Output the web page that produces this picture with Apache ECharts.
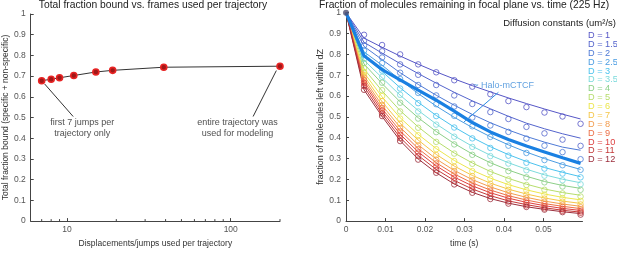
<!DOCTYPE html>
<html>
<head>
<meta charset="utf-8">
<script src="https://cdn.jsdelivr.net/npm/echarts@6/dist/echarts.min.js"></script>
<style>
  html, body { margin: 0; padding: 0; background: #fff; }
  #chart { width: 617px; height: 253px; }
</style>
</head>
<body>
<div id="chart"></div>
<script>
// left panel: fraction bound vs. jumps used
const jumpsUsed = [7, 8, 9, 11, 15, 19, 39, 200];
const fractionBound = [0.678, 0.685, 0.692, 0.703, 0.720, 0.728, 0.743, 0.748];
const logMinorTicks = [7, 8, 9, 20, 30, 40, 50, 60, 70, 80, 90, 200];

// right panel: fraction remaining vs. time
const times = [0, 0.00457, 0.00914, 0.01371, 0.01828, 0.02285, 0.02742, 0.03199, 0.03656, 0.04113, 0.0457, 0.05027, 0.05484, 0.05941];
const dLabels = ['D = 1', 'D = 1.5', 'D = 2', 'D = 2.5', 'D = 3', 'D = 3.5', 'D = 4', 'D = 5', 'D = 6', 'D = 7', 'D = 8', 'D = 9', 'D = 10', 'D = 11', 'D = 12'];
const dColors = ['#5656c6', '#5464cc', '#4e7ad6', '#4a9ce2', '#4cc2ee', '#7cdadc', '#8ccf88', '#b6dd6c', '#ece64e', '#f5c648', '#f29c4e', '#ec6e46', '#de4040', '#c43838', '#9c2e3c'];

const fitD1 = [1, .878, .834, .792, .753, .716, .682, .650, .620, .591, .564, .538, .513, .490];
const fitD15 = [1, .858, .806, .756, .708, .662, .618, .577, .539, .503, .470, .443, .419, .398];
const fitD2 = [1, .838, .775, .712, .656, .604, .556, .512, .472, .437, .406, .379, .355, .340];
const fitD25 = [1, .812, .748, .678, .612, .552, .498, .449, .405, .366, .331, .300, .272, .248];
const fitD3 = [1, .792, .718, .640, .570, .507, .451, .401, .357, .319, .286, .257, .234, .213];
const fitD35 = [1, .772, .688, .604, .531, .466, .409, .359, .316, .280, .249, .222, .201, .184];
const fitD4 = [1, .754, .660, .572, .496, .430, .372, .322, .280, .245, .215, .190, .171, .157];
const fitD5 = [1, .730, .625, .530, .452, .384, .327, .279, .238, .205, .177, .154, .137, .124];
const fitD6 = [1, .712, .596, .496, .416, .348, .291, .244, .206, .175, .150, .130, .114, .102];
const fitD7 = [1, .697, .573, .470, .389, .320, .264, .219, .182, .153, .130, .111, .096, .085];
const fitD8 = [1, .684, .555, .450, .366, .298, .243, .199, .164, .136, .114, .096, .082, .071];
const fitD9 = [1, .672, .540, .433, .348, .280, .226, .183, .149, .122, .101, .084, .071, .060];
const fitD10 = [1, .660, .527, .417, .332, .265, .211, .169, .136, .110, .090, .074, .061, .051];
const fitD11 = [1, .645, .514, .401, .315, .248, .195, .154, .122, .097, .079, .064, .052, .043];
const fitD12 = [1, .630, .502, .386, .298, .232, .178, .138, .108, .086, .069, .056, .045, .036];
const fitHalo = [1, .793, .727, .678, .628, .580, .528, .473, .428, .392, .360, .332, .304, .277];

const obsD1 = [1, .894, .845, .800, .752, .714, .676, .645, .609, .576, .547, .521, .502, .467];
const obsD15 = [1, .865, .815, .752, .702, .653, .603, .562, .523, .490, .452, .421, .391, .361];
const obsD2 = [1, .843, .785, .712, .653, .603, .550, .497, .459, .428, .396, .362, .331, .297];
const obsD25 = [1, .818, .758, .682, .615, .561, .505, .455, .404, .362, .327, .293, .268, .246];
const obsD3 = [1, .797, .722, .636, .566, .504, .449, .397, .351, .314, .280, .252, .228, .210];
const obsD35 = [1, .778, .692, .606, .526, .463, .405, .356, .312, .276, .244, .218, .196, .177];
const obsD4 = [1, .758, .664, .568, .492, .427, .368, .318, .276, .240, .210, .186, .166, .150];
const obsD5 = [1, .734, .628, .526, .448, .380, .324, .275, .234, .200, .173, .150, .133, .118];
const obsD6 = [1, .716, .600, .492, .412, .345, .288, .240, .203, .171, .147, .127, .110, .097];
const obsD7 = [1, .701, .576, .467, .386, .317, .261, .216, .179, .150, .127, .108, .093, .080];
const obsD8 = [1, .688, .558, .447, .363, .295, .240, .196, .161, .133, .111, .093, .079, .067];
const obsD9 = [1, .676, .543, .430, .345, .277, .223, .180, .146, .119, .098, .081, .068, .056];
const obsD10 = [1, .663, .530, .414, .329, .262, .208, .166, .133, .107, .087, .071, .058, .047];
const obsD11 = [1, .648, .516, .398, .312, .245, .192, .151, .119, .094, .076, .061, .049, .040];
const obsD12 = [1, .630, .504, .384, .295, .232, .176, .136, .106, .084, .068, .055, .043, .031];

const fits = [fitD1, fitD15, fitD2, fitD25, fitD3, fitD35, fitD4, fitD5, fitD6, fitD7, fitD8, fitD9, fitD10, fitD11, fitD12];
const observed = [obsD1, obsD15, obsD2, obsD25, obsD3, obsD35, obsD4, obsD5, obsD6, obsD7, obsD8, obsD9, obsD10, obsD11, obsD12];

// annotation anchors (data coords)
const leftNotes = [[12.4, 0.45, 'first 7 jumps per\ntrajectory only'], [110, 0.45, 'entire trajectory was\nused for modeling']];
const leftArrows = [[[10.9, 0.505], [7.3, 0.662]], [[137, 0.505], [190, 0.727]]];
const haloNote = [0.0399, 0.652, '~ Halo-mCTCF'];
const haloArrow = [[0.0386, 0.618], [0.0299, 0.476]];

const FONT = 'Liberation Sans, Arial, Helvetica, sans-serif';
const axisCol = '#444';

const pairs = (xs, ys) => xs.map((x, i) => [x, ys[i]]);

function makeAxisBase(extra) {
  return Object.assign({
    axisLine: { show: true, onZero: false, lineStyle: { color: axisCol, width: 1 } },
    axisTick: { show: true, inside: true, length: 3, lineStyle: { color: axisCol } },
    axisLabel: { color: '#555', fontSize: 8.5, fontFamily: FONT, margin: 5 },
    splitLine: { show: false },
    nameLocation: 'middle',
    nameTextStyle: { color: '#333', fontSize: 8.5, fontFamily: FONT },
  }, extra);
}

const series = [];

// left panel
series.push({
  type: 'line',
  xAxisIndex: 0,
  yAxisIndex: 0,
  data: pairs(jumpsUsed, fractionBound),
  symbol: 'circle',
  symbolSize: 6,
  lineStyle: { color: '#333', width: 1 },
  itemStyle: { color: '#a01818', borderColor: '#e82424', borderWidth: 1.6 },
  markLine: {
    silent: true,
    symbol: ['none', 'arrow'],
    symbolSize: [0, 7],
    label: { show: false },
    lineStyle: { color: '#333', width: 1, type: 'solid' },
    data: leftArrows.map(a => [{ coord: a[0] }, { coord: a[1] }]),
  },
});
series.push({
  type: 'scatter',
  xAxisIndex: 0,
  yAxisIndex: 0,
  data: leftNotes,
  symbolSize: 0,
  silent: true,
  label: {
    show: true,
    position: 'inside',
    formatter: p => p.data[2],
    color: '#222',
    fontSize: 9,
    lineHeight: 10.5,
    align: 'center',
    fontFamily: FONT,
  },
});
series.push({
  type: 'custom',
  xAxisIndex: 0,
  yAxisIndex: 0,
  silent: true,
  clip: false,
  data: logMinorTicks.map(v => [v, 0]),
  renderItem: (params, api) => {
    const p = api.coord([api.value(0), 0]);
    return {
      type: 'line',
      shape: { x1: p[0], y1: p[1], x2: p[0], y2: p[1] - 2 },
      style: { stroke: axisCol, lineWidth: 1 },
    };
  },
});

// right panel: fits and data points
fits.forEach((f, i) => {
  series.push({
    name: dLabels[i],
    type: 'line',
    xAxisIndex: 1,
    yAxisIndex: 1,
    data: pairs(times, f),
    showSymbol: false,
    lineStyle: { color: dColors[i], width: 1 },
    itemStyle: { color: dColors[i] },
    z: 2,
  });
});
observed.forEach((o, i) => {
  series.push({
    name: dLabels[i],
    type: 'scatter',
    xAxisIndex: 1,
    yAxisIndex: 1,
    data: pairs(times, o).slice(1),
    symbol: 'circle',
    symbolSize: 5.5,
    itemStyle: { color: 'rgba(255,255,255,0)', borderColor: dColors[i], borderWidth: 1 },
    z: 3,
  });
});
series.push({
  type: 'line',
  xAxisIndex: 1,
  yAxisIndex: 1,
  data: pairs(times, fitHalo),
  showSymbol: false,
  lineStyle: { color: '#1a80e2', width: 3.2 },
  z: 4,
  markLine: {
    silent: true,
    symbol: ['none', 'arrow'],
    symbolSize: [0, 6],
    label: { show: false },
    lineStyle: { color: '#2a8ae2', width: 1, type: 'solid' },
    data: [[{ coord: haloArrow[0] }, { coord: haloArrow[1] }]],
  },
});
series.push({
  type: 'scatter',
  xAxisIndex: 1,
  yAxisIndex: 1,
  data: [haloNote],
  symbolSize: 0,
  silent: true,
  z: 6,
  label: {
    show: true,
    position: 'inside',
    formatter: p => p.data[2],
    color: '#3a8ad8',
    fontSize: 9,
    fontFamily: FONT,
  },
});
series.push({
  type: 'scatter',
  xAxisIndex: 1,
  yAxisIndex: 1,
  data: [[times[0], fitD1[0]]],
  symbol: 'circle',
  symbolSize: 6,
  itemStyle: { color: '#4e4e70' },
  z: 5,
});

const option = {
  animation: false,
  textStyle: { fontFamily: FONT },
  title: [
    { text: 'Total fraction bound vs. frames used per trajectory', left: 153, textAlign: 'center', top: 0, padding: 0,
      textStyle: { fontSize: 10.3, fontWeight: 'normal', color: '#222', fontFamily: FONT } },
    { text: 'Fraction of molecules remaining in focal plane vs. time (225 Hz)', left: 464, textAlign: 'center', top: 0, padding: 0,
      textStyle: { fontSize: 10.3, fontWeight: 'normal', color: '#222', fontFamily: FONT } },
    { text: 'Diffusion constants (um²/s)', right: 1, top: 18, padding: 0,
      textStyle: { fontSize: 9.5, fontWeight: 'normal', color: '#222', fontFamily: FONT } },
  ],
  legend: {
    orient: 'vertical',
    left: 583,
    top: 31,
    icon: 'none',
    itemWidth: 0,
    itemHeight: 8,
    itemGap: -0.12,
    padding: 0,
    selectedMode: false,
    textStyle: { fontSize: 9.2, lineHeight: 8, fontFamily: FONT, padding: 0 },
    data: dLabels.map((n, i) => ({ name: n, textStyle: { color: dColors[i] } })),
  },
  grid: [
    { left: 26, top: 14, width: 254, height: 218.7 },
    { left: 346, top: 12.7, width: 236.5, height: 220 },
  ],
  xAxis: [
    makeAxisBase({
      type: 'log', logBase: 10, gridIndex: 0, min: 6, max: 200,
      name: 'Displacements/jumps used per trajectory', nameGap: 13,
      axisLabel: { color: '#555', fontSize: 8.5, fontFamily: FONT, margin: 4, showMinLabel: false, showMaxLabel: false },
    }),
    makeAxisBase({
      type: 'value', gridIndex: 1, min: 0, max: 0.0599, interval: 0.01,
      name: 'time (s)', nameGap: 12,
      axisLabel: { color: '#555', fontSize: 8.5, fontFamily: FONT, margin: 4, showMaxLabel: false },
    }),
  ],
  yAxis: [
    makeAxisBase({
      type: 'value', gridIndex: 0, min: 0, max: 1, interval: 0.1,
      name: 'Total fraction bound (specific + non-specific)', nameGap: 18,
    }),
    makeAxisBase({
      type: 'value', gridIndex: 1, min: 0, max: 1, interval: 0.1,
      name: 'fraction of molecules left within dZ', nameGap: 17,
      nameTextStyle: { color: '#333', fontSize: 9, fontFamily: FONT },
    }),
  ],
  series,
};

const chart = echarts.init(document.getElementById('chart'), null, { renderer: 'canvas' });
chart.setOption(option);
</script>
</body>
</html>
